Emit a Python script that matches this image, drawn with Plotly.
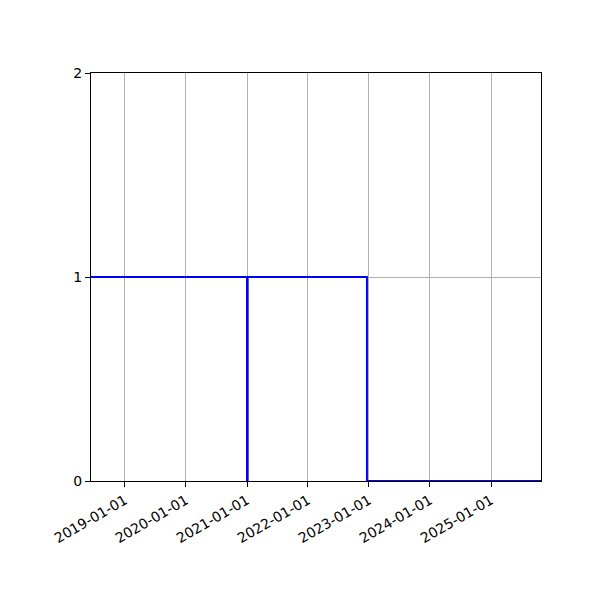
import plotly.graph_objects as go

# step series (value holds until the next date)
dates = ["2018-06-12", "2021-01-01", "2021-01-05", "2022-12-20", "2025-10-27"]
values = [1, 0, 1, 0, 0]

x_ticks = ["2019-01-01", "2020-01-01", "2021-01-01", "2022-01-01",
           "2023-01-01", "2024-01-01", "2025-01-01"]
y_ticks = [0, 1, 2]

fig = go.Figure()
fig.add_trace(go.Scatter(
    x=dates, y=values, mode="lines",
    line=dict(color="#0000ff", width=2, shape="hv"),
    showlegend=False,
))

# page body has an 8px margin, so the plot box is pulled up/left by that
fig.update_layout(
    width=600, height=600,
    margin=dict(l=83, r=67, t=65, b=127),
    paper_bgcolor="white", plot_bgcolor="white",
    font=dict(family="DejaVu Sans", size=14, color="black"),
)
fig.update_xaxes(
    type="date", range=[dates[0], dates[-1]],
    tickvals=x_ticks, ticktext=x_ticks, tickangle=-30,
    showgrid=True, gridcolor="#b0b0b0", gridwidth=1,
    showline=True, linecolor="black", linewidth=1, mirror=True,
    ticks="outside", ticklen=5, tickcolor="black", zeroline=False,
)
fig.update_yaxes(
    range=[0, 2], tickvals=y_ticks,
    showgrid=True, gridcolor="#b0b0b0", gridwidth=1,
    showline=True, linecolor="black", linewidth=1, mirror=True,
    ticks="outside", ticklen=5, tickcolor="black", zeroline=False,
)

fig.write_html("out.html")
